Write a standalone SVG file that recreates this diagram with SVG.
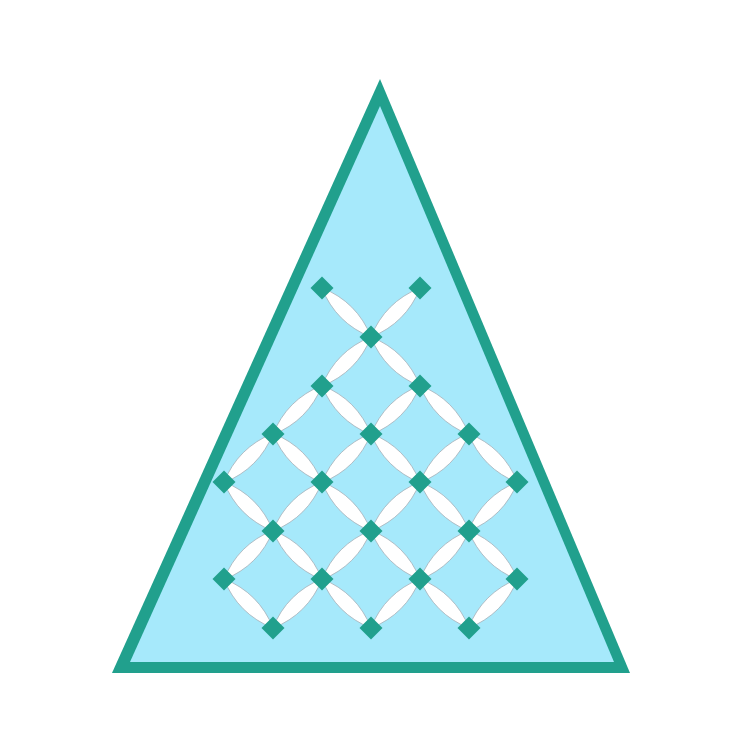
<svg xmlns="http://www.w3.org/2000/svg" xmlns:xlink="http://www.w3.org/1999/xlink" width="750" height="750" viewBox="0 0 750 750">
<style>
.lens{fill:#ffffff;stroke:#a9b4bc;stroke-width:0.8}
.dia{fill:#21a08d}
</style>
<defs>
<path id="lensA" class="lens" d="M-35,0 Q0,-15 35,0 Q0,15 -35,0Z" transform="rotate(45)"/>
<path id="lensB" class="lens" d="M-35,0 Q0,-15 35,0 Q0,15 -35,0Z" transform="rotate(-45)"/>
<polygon id="d" class="dia" points="0,-11.5 11.5,0 0,11.5 -11.5,0"/>
</defs>
<rect width="750" height="750" fill="#ffffff"/>
<g id="triangle">
<polygon points="380,79 630,673 112,673" fill="#21a08d"/>
<polygon points="380,106 614,662 130,662" fill="#a6e9fb"/>
</g>
<g id="connectors">
<use xlink:href="#lensA" x="346.5" y="312.5"/>
<use xlink:href="#lensB" x="395.5" y="312.5"/>
<use xlink:href="#lensB" x="346.5" y="361.5"/>
<use xlink:href="#lensA" x="395.5" y="361.5"/>
<use xlink:href="#lensB" x="297.5" y="410"/>
<use xlink:href="#lensA" x="346.5" y="410"/>
<use xlink:href="#lensB" x="395.5" y="410"/>
<use xlink:href="#lensA" x="444.5" y="410"/>
<use xlink:href="#lensB" x="248.5" y="458"/>
<use xlink:href="#lensA" x="297.5" y="458"/>
<use xlink:href="#lensB" x="346.5" y="458"/>
<use xlink:href="#lensA" x="395.5" y="458"/>
<use xlink:href="#lensB" x="444.5" y="458"/>
<use xlink:href="#lensA" x="493" y="458"/>
<use xlink:href="#lensA" x="248.5" y="506.5"/>
<use xlink:href="#lensB" x="297.5" y="506.5"/>
<use xlink:href="#lensA" x="346.5" y="506.5"/>
<use xlink:href="#lensB" x="395.5" y="506.5"/>
<use xlink:href="#lensA" x="444.5" y="506.5"/>
<use xlink:href="#lensB" x="493" y="506.5"/>
<use xlink:href="#lensB" x="248.5" y="555"/>
<use xlink:href="#lensA" x="297.5" y="555"/>
<use xlink:href="#lensB" x="346.5" y="555"/>
<use xlink:href="#lensA" x="395.5" y="555"/>
<use xlink:href="#lensB" x="444.5" y="555"/>
<use xlink:href="#lensA" x="493" y="555"/>
<use xlink:href="#lensA" x="248.5" y="603.5"/>
<use xlink:href="#lensB" x="297.5" y="603.5"/>
<use xlink:href="#lensA" x="346.5" y="603.5"/>
<use xlink:href="#lensB" x="395.5" y="603.5"/>
<use xlink:href="#lensA" x="444.5" y="603.5"/>
<use xlink:href="#lensB" x="493" y="603.5"/>
</g>
<g id="nodes">
<g id="n1"><use xlink:href="#d" x="322" y="288"/></g>
<g id="n2"><use xlink:href="#d" x="420" y="288"/></g>
<g id="n3"><use xlink:href="#d" x="371" y="337"/></g>
<g id="n4"><use xlink:href="#d" x="322" y="386"/></g>
<g id="n5"><use xlink:href="#d" x="420" y="386"/></g>
<g id="n6"><use xlink:href="#d" x="273" y="434"/></g>
<g id="n7"><use xlink:href="#d" x="371" y="434"/></g>
<g id="n8"><use xlink:href="#d" x="469" y="434"/></g>
<g id="n9"><use xlink:href="#d" x="224" y="482"/></g>
<g id="n10"><use xlink:href="#d" x="322" y="482"/></g>
<g id="n11"><use xlink:href="#d" x="420" y="482"/></g>
<g id="n12"><use xlink:href="#d" x="517" y="482"/></g>
<g id="n13"><use xlink:href="#d" x="273" y="531"/></g>
<g id="n14"><use xlink:href="#d" x="371" y="531"/></g>
<g id="n15"><use xlink:href="#d" x="469" y="531"/></g>
<g id="n16"><use xlink:href="#d" x="224" y="579"/></g>
<g id="n17"><use xlink:href="#d" x="322" y="579"/></g>
<g id="n18"><use xlink:href="#d" x="420" y="579"/></g>
<g id="n19"><use xlink:href="#d" x="517" y="579"/></g>
<g id="n20"><use xlink:href="#d" x="273" y="628"/></g>
<g id="n21"><use xlink:href="#d" x="371" y="628"/></g>
<g id="n22"><use xlink:href="#d" x="469" y="628"/></g>
</g>
</svg>
